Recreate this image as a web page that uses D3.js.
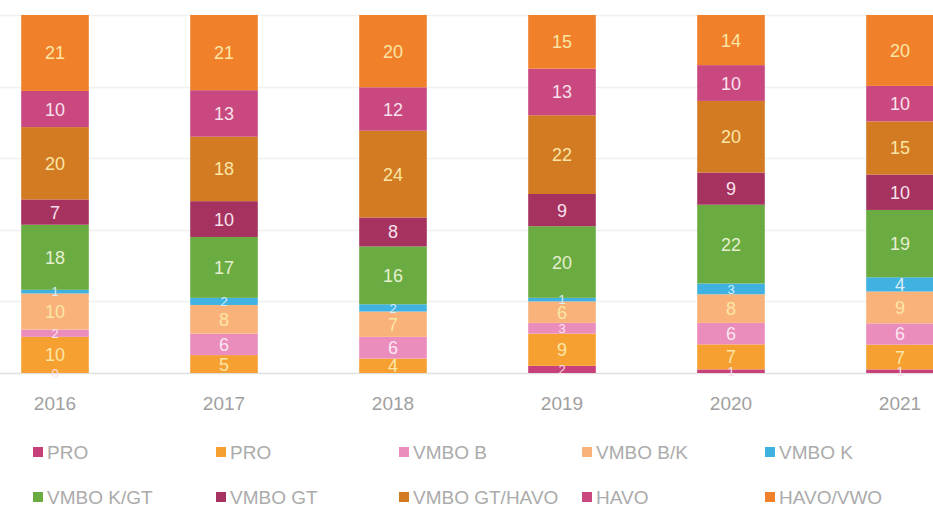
<!DOCTYPE html>
<html>
<head>
<meta charset="utf-8">
<script src="https://d3js.org/d3.v7.min.js"></script>
<style>
  body { margin: 0; background: #fff; }
  svg { display: block; font-family: "Liberation Sans", Arial, sans-serif; }
</style>
</head>
<body>
<div id="chart"></div>
<script>
// jaren (x-as)
const years = ["2016", "2017", "2018", "2019", "2020", "2021"];

// reeksen, van onder naar boven gestapeld
const seriesNames = ["PRO", "PRO", "VMBO B", "VMBO B/K", "VMBO K", "VMBO K/GT", "VMBO GT", "VMBO GT/HAVO", "HAVO", "HAVO/VWO"];
const seriesColors = ["#c8407a", "#f7a032", "#ea8cbc", "#f9b27a", "#3fb2e2", "#6aab42", "#a5325f", "#d27b22", "#c9487f", "#f0802a"];
const labelColors = ["#f8e0ec", "#fbe6a6", "#fbe6f0", "#fbe6a6", "#d8eef8", "#e6efcf", "#f8e0ec", "#fbe6a6", "#f8e0ec", "#fbe6a6"];

// percentages per reeks (2016..2021); null = geen label
const pro1 = [0, null, null, 2, 1, 1];
const pro2 = [10, 5, 4, 9, 7, 7];
const vmboB = [2, 6, 6, 3, 6, 6];
const vmboBK = [10, 8, 7, 6, 8, 9];
const vmboK = [1, 2, 2, 1, 3, 4];
const vmboKGT = [18, 17, 16, 20, 22, 19];
const vmboGT = [7, 10, 8, 9, 9, 10];
const vmboGTHAVO = [20, 18, 24, 22, 20, 15];
const havo = [10, 13, 12, 13, 10, 10];
const havoVwo = [21, 21, 20, 15, 14, 20];

const seriesValues = [pro1, pro2, vmboB, vmboBK, vmboK, vmboKGT, vmboGT, vmboGTHAVO, havo, havoVwo];

const width = 933, height = 508;
const keys = seriesNames.map((d, i) => i);

// tabel voor d3.stack
const table = years.map((y, j) => {
  const row = { year: y };
  keys.forEach(k => { row[k] = seriesValues[k][j] == null ? 0 : seriesValues[k][j]; });
  return row;
});

const stacked = d3.stack().keys(keys).offset(d3.stackOffsetExpand)(table);

const x = d3.scaleBand().domain(years).range([-29.5, 984.5]).paddingInner(0.6).paddingOuter(0.3);
const y = d3.scaleLinear().domain([0, 1]).range([373, 15]);

const svg = d3.select("#chart").append("svg")
  .attr("width", width)
  .attr("height", height);

// lichte rasterlijnen
svg.append("g")
  .selectAll("line")
  .data(y.ticks(5))
  .join("line")
  .attr("x1", 0).attr("x2", width)
  .attr("y1", d => Math.round(y(d)) + 0.5)
  .attr("y2", d => Math.round(y(d)) + 0.5)
  .attr("stroke", d => d === 0 ? "#e0e0e0" : "#f0f0f0")
  .attr("stroke-width", 1.5);

// staven
const layers = svg.append("g")
  .selectAll("g")
  .data(stacked)
  .join("g")
  .attr("fill", d => seriesColors[d.key]);

layers.selectAll("rect")
  .data(d => d)
  .join("rect")
  .attr("x", d => x(d.data.year))
  .attr("width", x.bandwidth())
  .attr("y", d => y(d[1]))
  .attr("height", d => y(d[0]) - y(d[1]));

// waardelabels (kleine segmenten iets kleiner)
svg.append("g")
  .selectAll("g")
  .data(stacked)
  .join("g")
  .attr("fill", d => labelColors[d.key])
  .each(function(layer) {
    d3.select(this).selectAll("text")
      .data(layer.map((d, j) => ({ d, v: seriesValues[layer.key][j] })).filter(o => o.v != null))
      .join("text")
      .attr("x", o => x(o.d.data.year) + x.bandwidth() / 2)
      .attr("y", o => (y(o.d[0]) + y(o.d[1])) / 2)
      .attr("dy", "0.36em")
      .attr("text-anchor", "middle")
      .attr("font-size", o => o.v <= 3 ? 13 : 18)
      .text(o => o.v);
  });

// x-as
const xAxis = svg.append("g")
  .attr("transform", "translate(0,373)")
  .call(d3.axisBottom(x).tickSize(0).tickPadding(24));
xAxis.select(".domain").remove();
xAxis.selectAll("text")
  .attr("font-size", 19)
  .attr("font-family", "Liberation Sans, Arial, sans-serif")
  .attr("fill", "#a0a0a0");

// legenda
const legend = svg.append("g")
  .selectAll("g")
  .data(seriesNames)
  .join("g")
  .attr("transform", (d, i) => `translate(${33 + (i % 5) * 183},${i < 5 ? 452 : 497})`);

legend.append("rect")
  .attr("x", 0).attr("y", -5)
  .attr("width", 10).attr("height", 10)
  .attr("fill", (d, i) => seriesColors[i]);

legend.append("text")
  .attr("x", 14)
  .attr("dy", "0.36em")
  .attr("font-size", 19)
  .attr("fill", "#ababab")
  .text(d => d);
</script>
</body>
</html>
